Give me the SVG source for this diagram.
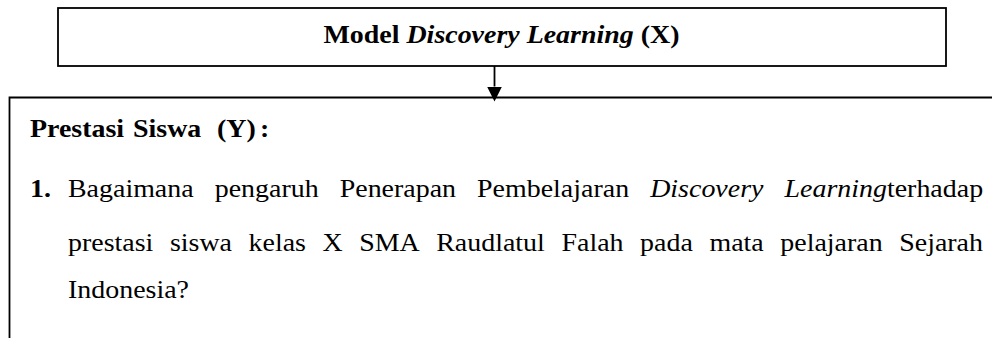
<svg xmlns="http://www.w3.org/2000/svg" width="992" height="338" viewBox="0 0 992 338">
<defs>
<style>
.box{fill:none;stroke:#000;stroke-width:1.8}
.ln{stroke:#000;stroke-width:1.8;fill:none}
.t{font-family:"Liberation Serif","Times New Roman",serif;font-size:25px;fill:#000}
.b{font-weight:bold}
.i{font-style:italic}
</style>
<marker id="ah" markerUnits="userSpaceOnUse" viewBox="0 0 15 15" refX="0" refY="7.5" markerWidth="15" markerHeight="15" orient="auto">
<path d="M0,0 L15,7.5 L0,15 z" fill="#000"/>
</marker>
</defs>
<rect width="992" height="338" fill="#fff"/>
<g id="node-x">
<rect class="box" x="58" y="8" width="888" height="58"/>
<text class="t b" transform="scale(1.118,1)" x="448.57" y="43" text-anchor="middle">Model <tspan class="i">Discovery Learning</tspan> (X)</text>
</g>
<g id="node-y">
<path class="ln" d="M992,97.5 H9.5 V338"/>
<g transform="scale(1.118,1)">
<text class="t b"><tspan x="26.83" y="137">Prestasi</tspan><tspan x="118.96" y="137">Siswa</tspan><tspan x="194.10" y="137">(Y)</tspan><tspan x="232.56" y="137">:</tspan></text>
<text class="t" y="197"><tspan class="b" x="26.83">1.</tspan><tspan x="60.82">Bagaimana</tspan><tspan x="192.04">pengaruh</tspan><tspan x="303.85">Penerapan</tspan><tspan x="426.74">Pembelajaran</tspan><tspan class="i" x="581.57">Discovery</tspan><tspan class="i" x="701.70">Learning</tspan><tspan>terhadap</tspan></text>
<text class="t" y="251"><tspan x="60.82">prestasi</tspan><tspan x="151.99">siswa</tspan><tspan x="222.32">kelas</tspan><tspan x="288.45">X</tspan><tspan x="321.31">SMA</tspan><tspan x="390.20">Raudlatul</tspan><tspan x="502.22">Falah</tspan><tspan x="572.55">pada</tspan><tspan x="634.56">mata</tspan><tspan x="697.92">pelajaran</tspan><tspan x="804.29">Sejarah</tspan></text>
<text class="t" x="60.82" y="298">Indonesia?</text>
</g>
</g>
<g id="connectors">
<line class="ln" x1="494.5" y1="66" x2="494.5" y2="86.5" marker-end="url(#ah)"/>
</g>
</svg>
